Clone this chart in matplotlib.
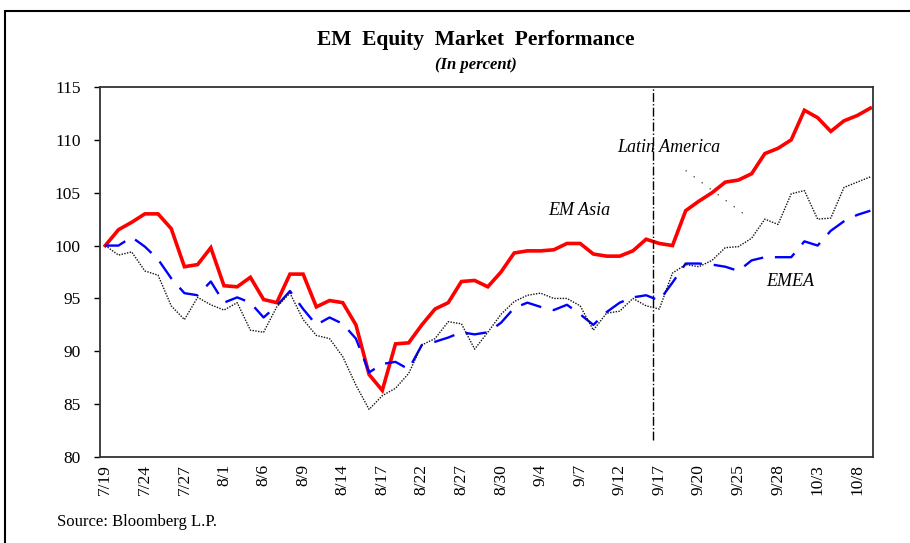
import numpy as np
import matplotlib
matplotlib.use("Agg")
import matplotlib.pyplot as plt
from matplotlib.patches import Rectangle

plt.rcParams['font.family'] = ['Liberation Serif', 'DejaVu Serif']

# index values, 7/19 = 100, one point per weekday
latam = [100.0, 101.5, 102.2, 103.0, 103.0, 101.6, 98.0, 98.2, 99.8, 96.2,
         96.1, 97.0, 94.9, 94.6, 97.3, 97.3, 94.2, 94.8, 94.6, 92.5,
         87.8, 86.3, 90.7, 90.8, 92.5, 94.0, 94.6, 96.6, 96.7, 96.1,
         97.5, 99.3, 99.5, 99.5, 99.6, 100.2, 100.2, 99.2, 99.0, 99.0,
         99.5, 100.6, 100.2, 100.0, 103.3, 104.2, 105.0, 106.0, 106.2, 106.8,
         108.7, 109.2, 110.0, 112.8, 112.1, 110.8, 111.8, 112.3, 113.0]
emea = [100.0, 100.0, 100.8, 99.9, 98.7, 96.9, 95.5, 95.3, 96.6, 94.6,
        95.1, 94.6, 93.2, 94.3, 95.7, 94.0, 92.5, 93.2, 92.6, 91.2,
        88.0, 88.8, 89.0, 88.3, 90.6, 90.9, 91.3, 91.8, 91.6, 91.8,
        92.7, 94.1, 94.6, 94.2, 93.9, 94.4, 93.5, 92.5, 93.7, 94.6,
        95.1, 95.3, 94.8, 96.5, 98.3, 98.3, 98.2, 98.0, 97.6, 98.6,
        98.9, 98.9, 98.9, 100.4, 100.0, 101.4, 102.3, 102.9, 103.3]
emasia = [100.0, 99.1, 99.4, 97.6, 97.2, 94.3, 93.0, 95.1, 94.4, 93.9,
          94.6, 92.0, 91.8, 94.2, 95.5, 93.0, 91.5, 91.2, 89.5, 86.8,
          84.5, 85.8, 86.5, 87.9, 90.6, 91.2, 92.8, 92.6, 90.2, 91.8,
          93.5, 94.7, 95.3, 95.5, 95.0, 95.0, 94.3, 92.0, 93.6, 93.8,
          95.0, 94.3, 94.0, 97.4, 98.2, 98.0, 98.6, 99.8, 99.9, 100.7,
          102.5, 102.0, 104.9, 105.2, 102.5, 102.6, 105.5, 106.0, 106.5]

tick_labels = ['7/19', '7/24', '7/27', '8/1', '8/6', '8/9', '8/14', '8/17', '8/22', '8/27',
               '8/30', '9/4', '9/7', '9/12', '9/17', '9/20', '9/25', '9/28', '10/3', '10/8']
yticks = [80, 85, 90, 95, 100, 105, 110, 115]

x = np.arange(len(latam))

fig = plt.figure(figsize=(9.10, 5.43), dpi=100)
# outer frame, cut off at right and bottom like the original
fig.patches.append(Rectangle((5/910, -0.1), 1.2, 1 - 11/543 + 0.1, transform=fig.transFigure,
                             fill=False, edgecolor='black', linewidth=1.5))

ax = fig.add_axes([100/910, 1 - 457/543, 773/910, 370/543])

ax.plot(x, latam, color='#ff0000', lw=2.6, solid_joinstyle='miter')
ax.plot(x, emea, color='#0000ff', lw=1.7, linestyle=(0, (9, 5)))
ax.plot(x, emasia, color='#111111', lw=1.0, linestyle=(0, (1, 1)))

# 9/11 marker and leader line
ax.axvline(41.5, ymin=0.045, ymax=1, color='black', lw=1.0, linestyle='-.')
ax.plot([44.0, 48.5], [107.1, 102.9], color='black', lw=0.8, linestyle=(0, (1, 8)))

ax.text(42.7, 109.3, 'Latin America', fontsize=13, style='italic', ha='center', va='center')
ax.text(35.9, 103.3, 'EM Asia', fontsize=13, style='italic', ha='center', va='center')
ax.text(51.9, 96.6, 'EMEA', fontsize=13, style='italic', ha='center', va='center')

ax.set_xlim(-0.4, 58.2)
ax.set_ylim(80, 115)
ax.set_yticks(yticks)
ax.set_yticklabels([str(v) for v in yticks], fontsize=12.5)
ax.set_xticks(x[::3])
ax.set_xticklabels(tick_labels, rotation=90, fontsize=12.5)
ax.tick_params(axis='y', direction='out', length=4, width=1, pad=10)
ax.tick_params(axis='x', length=0, pad=5)
for s in ax.spines.values():
    s.set_linewidth(1.3)
    s.set_color('#333333')

fig.text(476/910, 1 - 40/543, 'EM  Equity  Market  Performance', fontsize=15.5, fontweight='bold',
         ha='center', va='center')
fig.text(476/910, 1 - 65/543, '(In percent)', fontsize=12, fontweight='bold', style='italic',
         ha='center', va='center')
fig.text(57/910, 1 - 522/543, 'Source: Bloomberg L.P.', fontsize=12, ha='left', va='center')

fig.savefig('out.png', dpi=100)
